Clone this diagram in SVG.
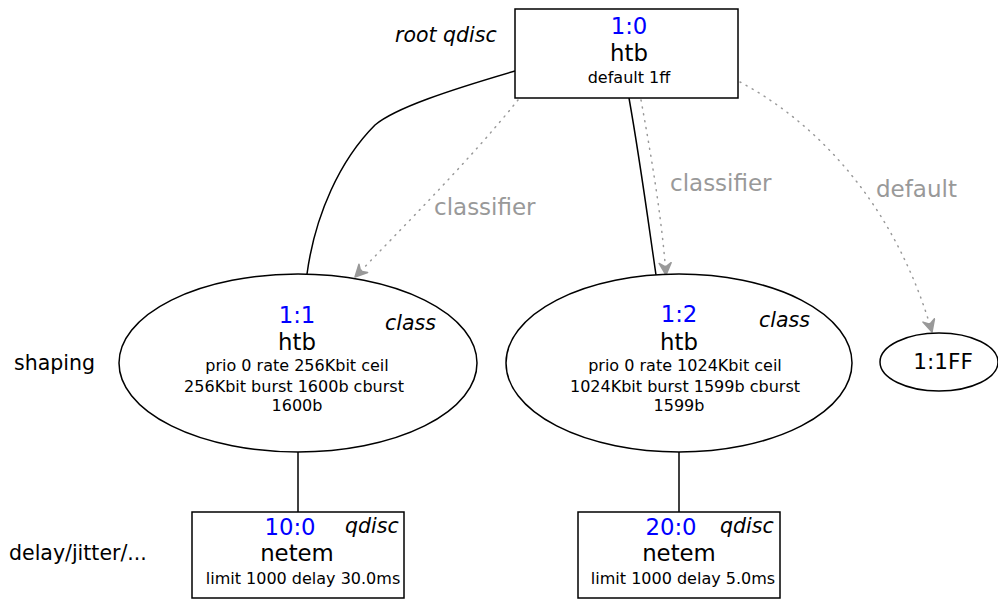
<svg xmlns="http://www.w3.org/2000/svg" width="998" height="599" viewBox="0 0 998 599">
  <style>
    text { font-family: "DejaVu Sans", "Liberation Sans", sans-serif; fill: #000; }
    .shape { fill: #fff; stroke: #000; stroke-width: 1.5; }
    .edge { fill: none; stroke: #000; stroke-width: 1.5; }
    .flow { fill: none; stroke: #999; stroke-width: 1.5; stroke-dasharray: 1 6; stroke-linecap: round; }
    .id { fill: #0000ff; font-size: 22.8px; text-anchor: middle; }
    .kind { font-size: 22.8px; text-anchor: middle; }
    .param { font-size: 16px; text-anchor: middle; }
    .role { font-size: 20.5px; font-style: italic; }
    .side { font-size: 20.5px; }
    .elabel { fill: #999; font-size: 23px; }
  </style>
  <defs>
    <!-- barbed grey arrowhead for classifier/default flows -->
    <marker id="vhead" viewBox="0 0 14 14" refX="13" refY="7" markerWidth="14" markerHeight="14" markerUnits="userSpaceOnUse" orient="auto">
      <path d="M13,7 L1,1 L5,7 L1,13 Z" fill="#999" stroke="#999" stroke-width="1.5" stroke-linejoin="round"/>
    </marker>
  </defs>

  <!-- side labels -->
  <text class="role" x="395" y="42">root qdisc</text>
  <text class="side" x="14" y="370">shaping</text>
  <text class="side" x="9" y="560">delay/jitter/...</text>

  <g id="connectors">
    <path class="edge" d="M515,71 C450,90 395,108 375,125 C340,160 315,215 307,274"/>
    <path class="edge" d="M629,98 C640,160 648,220 656,275"/>
    <path class="edge" d="M298,452 L298,512"/>
    <path class="edge" d="M679,452 L679,512"/>
    <path class="flow" d="M518,100 C470,160 400,230 355,277" marker-end="url(#vhead)"/>
    <path class="flow" d="M641,100 C652,160 662,220 666,275" marker-end="url(#vhead)"/>
    <path class="flow" d="M740,82 C830,130 900,220 932,332" marker-end="url(#vhead)"/>
    <text class="elabel" x="434" y="215">classifier</text>
    <text class="elabel" x="670" y="191">classifier</text>
    <text class="elabel" x="876" y="197">default</text>
  </g>

  <g id="root-1-0">
    <rect class="shape" x="515" y="9" width="223" height="89"/>
    <text class="id" x="629" y="34">1:0</text>
    <text class="kind" x="629" y="61">htb</text>
    <text class="param" x="629" y="83">default 1ff</text>
  </g>

  <g id="class-1-1">
    <ellipse class="shape" cx="298" cy="363" rx="179" ry="89"/>
    <text class="id" x="297" y="323">1:1</text>
    <text class="role" x="385" y="330">class</text>
    <text class="kind" x="297" y="350">htb</text>
    <text class="param" x="297" y="371">prio 0 rate 256Kbit ceil</text>
    <text class="param" x="294" y="392">256Kbit burst 1600b cburst</text>
    <text class="param" x="297" y="411">1600b</text>
  </g>

  <g id="class-1-2">
    <ellipse class="shape" cx="679" cy="363" rx="173" ry="89"/>
    <text class="id" x="679" y="322">1:2</text>
    <text class="role" x="759" y="327">class</text>
    <text class="kind" x="679" y="350">htb</text>
    <text class="param" x="685" y="371">prio 0 rate 1024Kbit ceil</text>
    <text class="param" x="685" y="392">1024Kbit burst 1599b cburst</text>
    <text class="param" x="679" y="411">1599b</text>
  </g>

  <g id="class-1-1ff">
    <ellipse class="shape" cx="939" cy="362" rx="59" ry="29"/>
    <text class="kind" x="943" y="369" style="font-size:21.6px">1:1FF</text>
  </g>

  <g id="qdisc-10-0">
    <rect class="shape" x="192" y="512" width="212" height="86"/>
    <text class="id" x="290" y="535">10:0</text>
    <text class="role" x="345" y="533">qdisc</text>
    <text class="kind" x="297" y="561">netem</text>
    <text class="param" x="303" y="584">limit 1000 delay 30.0ms</text>
  </g>

  <g id="qdisc-20-0">
    <rect class="shape" x="578" y="512" width="202" height="86"/>
    <text class="id" x="671" y="535">20:0</text>
    <text class="role" x="720" y="533">qdisc</text>
    <text class="kind" x="679" y="561">netem</text>
    <text class="param" x="683" y="584">limit 1000 delay 5.0ms</text>
  </g>
</svg>
